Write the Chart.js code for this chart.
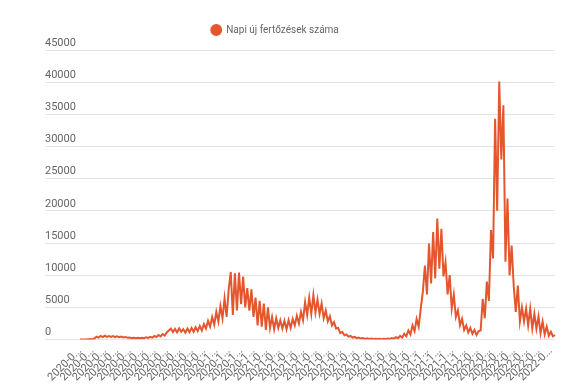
<!DOCTYPE html>
<html>
<head>
<meta charset="utf-8">
<script src="https://cdn.jsdelivr.net/npm/chart.js@4/dist/chart.umd.min.js"></script>
<style>
  html, body { margin: 0; background: #fff; }
  #wrap { width: 575px; height: 389px; }
</style>
</head>
<body>
<div id="wrap"><canvas id="chart" width="575" height="389"></canvas></div>
<script>
// two reports a week, starting with the first case
const startDate = '2020-03-04';
const daySteps = [3, 4];
const labelEvery = 6;

const seriesName = 'Napi új fertőzések száma';

const cases = [
    2, 4, 10, 15, 40, 60, 90, 150, 450, 300,
    550, 380, 600, 420, 550, 400, 520, 380, 480, 350,
    450, 330, 400, 280, 320, 220, 280, 200, 260, 190,
    280, 210, 330, 240, 400, 280, 550, 380, 700, 480,
    850, 600, 1100, 1400, 1700, 1150, 1650, 1100, 1750, 1200,
    1600, 1050, 1700, 1150, 1800, 1200, 1900, 1300, 2100, 1400,
    2400, 1700, 2900, 2000, 3500, 2300, 4300, 2800, 5200, 3300,
    6400, 3500, 7800, 10500, 3800, 10300, 4500, 10400, 5500, 9800,
    5000, 8000, 4500, 7800, 3500, 6500, 2200, 6000, 2000, 5600,
    1500, 5000, 1800, 3500, 1600, 3300, 1800, 3000, 1700, 2900,
    1600, 3000, 1800, 3200, 2200, 3700, 2500, 4300, 3000, 5800,
    3800, 6500, 4000, 6900, 4200, 6200, 4000, 5600, 3300, 4500,
    2800, 3600, 2200, 2700, 1700, 1800, 1000, 1200, 650, 800,
    450, 550, 300, 400, 200, 300, 150, 220, 100, 180,
    90, 150, 80, 130, 70, 120, 60, 130, 70, 150,
    90, 220, 130, 350, 200, 550, 300, 900, 500, 1400,
    800, 2200, 1300, 3200, 2000, 4800, 7400, 11500, 7000, 14900,
    8700, 16700, 9500, 18800, 11000, 17200, 9800, 12000, 7000, 10000,
    4800, 7000, 3500, 4500, 2200, 3200, 1500, 2200, 1100, 1800,
    900, 1500, 700, 1300, 1400, 6300, 3300, 9000, 6000, 17000,
    12600, 34300, 20000, 40100, 28000, 36400, 12100, 21900, 10000, 14600,
    8400, 4300, 8400, 2800, 5000, 2800, 4800, 2200, 4800, 1700,
    4000, 1700, 3600, 1000, 2800, 800, 2000, 600, 1200, 500,
    700
];

const yMax = 45000;
const yStep = 5000;

const labels = [];
let day = new Date(startDate + 'T00:00:00Z');
for (let i = 0; i < cases.length; i++) {
    labels.push(day.toISOString().slice(0, 10));
    day.setUTCDate(day.getUTCDate() + daySteps[i % 2]);
}

const lineColor = '#e4572e';
const textColor = '#666';
const gridColor = '#e3e3e3';

// the legend sits a bit left of the middle and close to the plot top
const legendShift = {
    id: 'legendShift',
    afterLayout(chart) {
        const lg = chart.legend;
        lg.left -= 25;
        lg.right -= 25;
        lg.top -= 5;
        lg.bottom -= 5;
    }
};

new Chart(document.getElementById('chart').getContext('2d'), {
    type: 'line',
    data: {
        labels: labels,
        datasets: [{
            label: seriesName,
            data: cases,
            borderColor: lineColor,
            backgroundColor: lineColor,
            borderWidth: 2,
            pointRadius: 0,
            tension: 0,
            fill: false
        }]
    },
    options: {
        responsive: false,
        animation: false,
        devicePixelRatio: 1,
        layout: { padding: { left: 45, right: 20, top: 17, bottom: 0 } },
        plugins: {
            tooltip: { enabled: false },
            legend: {
                position: 'top',
                labels: {
                    usePointStyle: true,
                    pointStyle: 'circle',
                    boxWidth: 10,
                    boxHeight: 7,
                    padding: 13,
                    color: textColor,
                    font: { family: 'Roboto', size: 10 }
                }
            }
        },
        scales: {
            x: {
                grid: { display: false, drawTicks: false },
                border: { display: false },
                ticks: {
                    autoSkip: false,
                    minRotation: 45,
                    maxRotation: 45,
                    padding: 5,
                    color: textColor,
                    font: { family: 'Roboto', size: 11 },
                    callback: function (value, index) {
                        if (index % labelEvery !== 0) return null;
                        return this.getLabelForValue(value).slice(0, 6) + '...';
                    }
                }
            },
            y: {
                min: 0,
                max: yMax,
                border: { display: false },
                grid: { color: gridColor, tickLength: 35 },
                ticks: {
                    stepSize: yStep,
                    crossAlign: 'far',
                    labelOffset: -7,
                    padding: 0,
                    color: textColor,
                    font: { family: 'Roboto', size: 11 },
                    callback: (v) => String(v)
                },
                afterFit: (scale) => { scale.width = 35; }
            }
        }
    },
    plugins: [legendShift]
});
</script>
</body>
</html>
